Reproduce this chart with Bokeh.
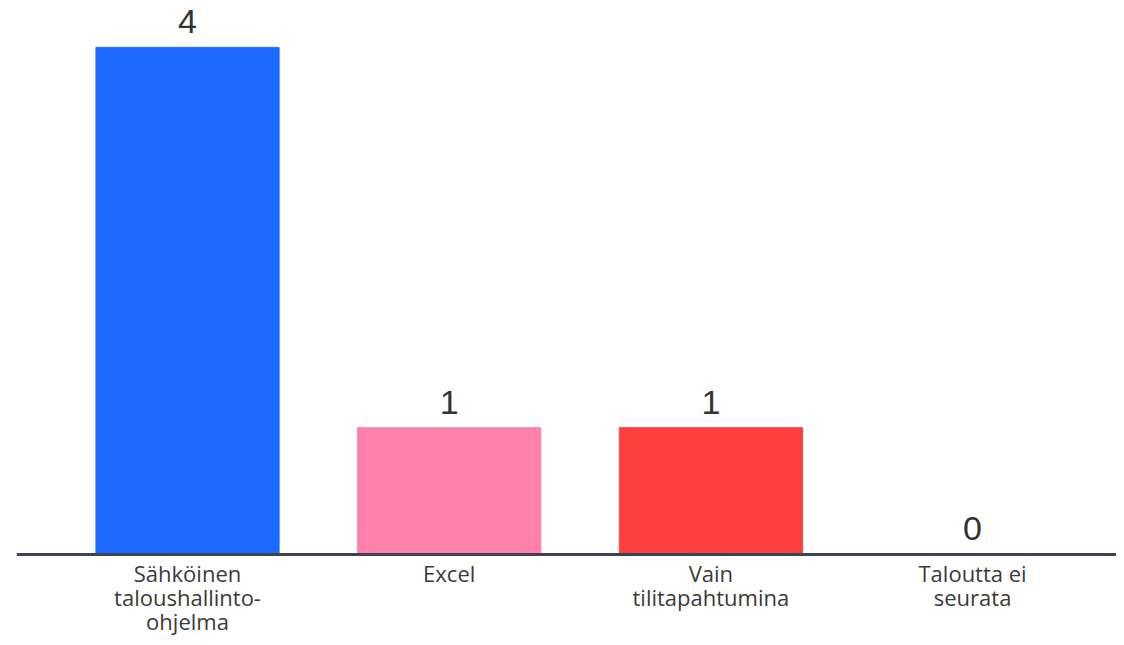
from bokeh.plotting import figure
from bokeh.models import ColumnDataSource, Range1d, LabelSet, Span
from bokeh.core.properties import value
from bokeh.embed import file_html
from bokeh.resources import INLINE

categories = ["Sähköinen\ntaloushallinto-\nohjelma", "Excel", "Vain\ntilitapahtumina", "Taloutta ei\nseurata"]
values = [4, 1, 1, 0]
colors = ["#1c6aff", "#ff80aa", "#ff4040", "#888888"]

xs = list(range(len(categories)))
src = ColumnDataSource(dict(x=xs, top=values, color=colors, label=[str(v) for v in values],
                            cat=categories, zero=[0] * len(xs)))

p = figure(width=1116, height=637, output_backend="svg", toolbar_location=None,
           x_range=Range1d(-0.6535, 3.55), y_range=Range1d(-0.655, 4.37),
           min_border_left=16, min_border_right=0, min_border_top=0, min_border_bottom=0)
p.outline_line_color = None
p.xgrid.visible = False
p.ygrid.visible = False
p.yaxis.visible = False
p.xaxis.visible = False

p.vbar(x="x", top="top", width=0.70, bottom=0, color="color", source=src)

p.add_layout(Span(location=0, dimension="width", line_color="#3d4350", line_width=3))

labels = LabelSet(x="x", y="top", text="label", source=src, text_align="center",
                  text_baseline="alphabetic", y_offset=14, text_font_size=value("34px"),
                  text_color="#333333", text_font=value("Liberation Sans"))
p.add_layout(labels)

p.text(x="x", y="zero", text="cat", source=src, text_align="center", text_baseline="top",
       y_offset=4, text_font=value("Open Sans"), text_font_size=value("22px"),
       text_line_height=0.8, text_color="#3a3a3a")

open("out.html", "w").write(file_html(p, INLINE))
